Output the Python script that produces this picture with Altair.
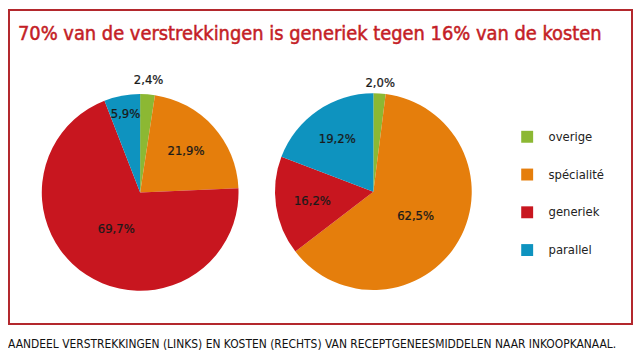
import altair as alt
import pandas as pd

# ---- data ----
categories = ["overige", "spécialité", "generiek", "parallel"]
verstrekkingen = [2.4, 21.9, 69.7, 5.9]   # left pie (share of prescriptions)
kosten = [2.0, 62.5, 16.2, 19.2]          # right pie (share of costs)

title_text = "70% van de verstrekkingen is generiek tegen 16% van de kosten"
caption_text = ("AANDEEL VERSTREKKINGEN (LINKS) EN KOSTEN (RECHTS) VAN "
                "RECEPTGENEESMIDDELEN NAAR INKOOPKANAAL.")

# ---- styling / layout ----
colors = ["#8cb833", "#e57e0c", "#c8161f", "#0e93bf"]
label_r_left = [113, 62, 44, 80]
label_r_right = [110, 49, 62, 64]
FONT = "DejaVu Sans Condensed"
RED_TITLE = "#c41e26"
RED_BOX = "#b3282d"
W, H = 629, 345


def fmt(v):
    return f"{v:.1f}".replace(".", ",") + "%"


def frame(values, radii):
    return pd.DataFrame({
        "categorie": categories,
        "waarde": values,
        "lr": radii,
        "label": [fmt(v) for v in values],
        "volgorde": list(range(len(values))),
    })


color = alt.Color(
    "categorie:N",
    scale=alt.Scale(domain=categories, range=colors),
    legend=alt.Legend(
        title=None, orient="none", legendX=516, legendY=122,
        symbolType="square", symbolSize=144, symbolStrokeWidth=0,
        labelFont=FONT, labelFontSize=13, labelColor="#222222",
        rowPadding=24, labelOffset=15,
    ),
)


def pie(values, radii, cx, cy):
    df = frame(values, radii)
    arcs = alt.Chart(df).mark_arc(outerRadius=99).encode(
        theta=alt.Theta("waarde:Q", stack=True),
        order=alt.Order("volgorde:Q"),
        color=color,
        x=alt.value(cx),
        y=alt.value(cy),
    )
    labels = alt.Chart(df).transform_stack(
        stack="waarde", groupby=[], as_=["s0", "s1"],
        sort=[alt.SortField(field="volgorde", order="ascending")],
    ).transform_joinaggregate(
        total="sum(waarde)"
    ).transform_calculate(
        mid="(datum.s0 + datum.s1) / datum.total * PI"
    ).mark_text(font=FONT, fontSize=13, color="#1a1a1a",
                stroke="#1a1a1a", strokeWidth=0.25).encode(
        theta=alt.Theta("mid:Q", scale=None),
        radius=alt.Radius("lr:Q", scale=None),
        text="label:N",
        x=alt.value(cx),
        y=alt.value(cy),
    )
    return alt.layer(arcs, labels)


box = alt.Chart(pd.DataFrame({"k": [0]})).mark_rect(
    filled=False, stroke=RED_BOX, strokeWidth=2
).encode(x=alt.value(1), x2=alt.value(628), y=alt.value(1), y2=alt.value(317))

title = alt.Chart(pd.DataFrame({"t": [title_text]})).mark_text(
    align="left", baseline="alphabetic", font=FONT, fontSize=20,
    color=RED_TITLE, stroke=RED_TITLE, strokeWidth=0.5
).encode(text="t:N", x=alt.value(10), y=alt.value(31))

caption = alt.Chart(pd.DataFrame({"t": [caption_text]})).mark_text(
    align="left", baseline="alphabetic", font=FONT, fontSize=12.0, color="#111111"
).encode(text="t:N", x=alt.value(0), y=alt.value(341))

chart = alt.layer(
    box,
    title,
    pie(verstrekkingen, label_r_left, 133, 184.5),
    pie(kosten, label_r_right, 367.7, 183.7),
    caption,
).resolve_scale(theta="independent").properties(
    width=W, height=H, padding=0, autosize=alt.AutoSizeParams(type="none")
).configure_view(strokeWidth=0)

chart.save("out.html", embed_options={"renderer": "svg", "actions": False})
